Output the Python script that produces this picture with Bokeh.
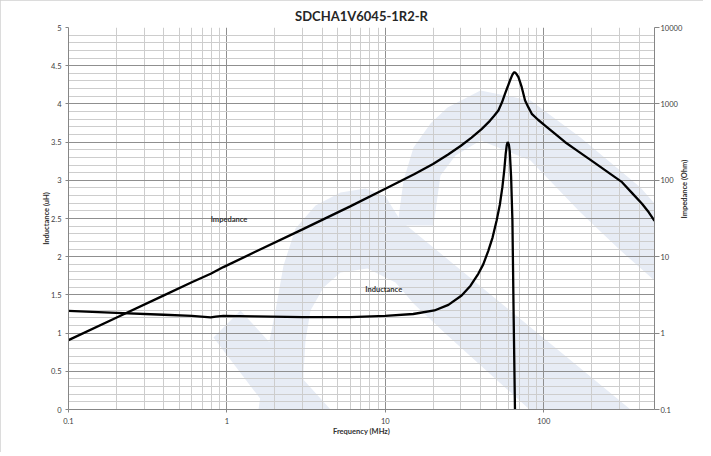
import math
from bokeh.plotting import figure
from bokeh.models import Range1d, LogAxis, FixedTicker, Label, LogScale, LinearScale
from bokeh.embed import file_html
from bokeh.resources import INLINE

# ---- data ----
freq_L = [0.1, 0.2, 0.4, 0.6, 0.79, 0.85, 0.95, 1.5, 3, 6, 10, 15, 20.4, 25, 30.3,
          34.5, 38.6, 41.5, 44.7, 47.5, 50.4, 52.8, 54.8, 56.3, 57.5, 58.4, 59.2, 60.2,
          61.0, 62.2, 63.4, 64.6, 65.8, 66.5]
ind_uH = [1.29, 1.265, 1.24, 1.225, 1.205, 1.215, 1.225, 1.22, 1.21, 1.21, 1.225, 1.25, 1.296, 1.37, 1.492,
          1.62, 1.776, 1.90, 2.08, 2.25, 2.474, 2.68, 2.91, 3.13, 3.347, 3.46, 3.50, 3.47,
          3.38, 3.05, 2.474, 1.17, 0.0, -0.6]

freq_Z = [0.1, 0.2, 0.4, 0.6, 0.79, 0.95, 1.5, 3, 6, 10, 15.3, 20, 24.9, 30, 35, 40.5, 45.7,
          48.5, 51.7, 54.5, 56.9, 59.0, 61.2, 63.2, 64.5, 65.3, 66.2, 67.3, 69.2, 72.6, 76.2,
          80, 84.0, 92, 101.9, 118, 136.5, 165, 206.5, 255, 312, 365, 417, 460, 500]
imp_ohm = [0.81, 1.59, 3.12, 4.62, 5.98, 7.31, 11.5, 22.8, 45.6, 77.3, 121, 163, 218, 283, 362, 468, 600,
           695, 820, 1050, 1355, 1650, 2024, 2380, 2540, 2600, 2560, 2450, 2235, 1654, 1110,
           900, 742, 620, 521, 405, 315, 239, 173, 127, 94.5, 66.4, 49.2, 38.1, 29.5]

x_major = [0.1, 1, 10, 100]
x_minor = [m * d for d in (0.1, 1, 10) for m in range(2, 10)] + [200, 300, 400, 500]
y_major = [0, 0.5, 1, 1.5, 2, 2.5, 3, 3.5, 4, 4.5, 5]
y_minor = [round(0.1 * i, 1) for i in range(51) if i % 5 != 0]
z_major = [0.1, 1, 10, 100, 1000, 10000]
z_labels = ["0.1", "1", "10", "100", "1000", "10000"]
x_labels = ["0.1", "1", "10", "100"]
y_labels = ["0", "0.5", "1", "1.5", "2", "2.5", "3", "3.5", "4", "4.5", "5"]

title_text = "SDCHA1V6045-1R2-R"
xlab = "Frequency (MHz)"
ylab_left = "Inductance (uH)"
ylab_right = "Impedance (Ohm)"

# background watermark outlines (page pixels, decorative only)
wm_a_x = [258, 265, 275, 283, 295, 315, 340, 365, 385, 400, 630, 529, 447, 413, 395, 367, 340, 323, 310, 305, 303, 303]
wm_a_y = [409, 360, 310, 265, 228, 205, 192, 188, 196, 220, 409, 409, 335, 303, 282, 268, 272, 287, 310, 340, 372, 409]
wm_b_x = [397, 403, 413, 430, 447, 480, 530, 580, 640, 654, 654, 620, 580, 530, 480, 455, 440, 433]
wm_b_y = [225, 180, 147, 123, 107, 90, 100, 137, 187, 203, 280, 250, 212, 160, 140, 155, 175, 225]
wm_c_x = [213, 240, 330, 268]
wm_c_y = [337, 310, 409, 409]
WM = "#e7ecf5"

FONT = "Lato"
AX = "#868686"
TXT = "#404040"
LAB = "#303030"

p = figure(width=703, height=452, x_axis_type="log",
           x_range=Range1d(0.1, 500), y_range=Range1d(0, 5),
           output_backend="svg", toolbar_location=None,
           min_border_left=68, min_border_right=49, min_border_top=27, min_border_bottom=43)
p.title.text = title_text
p.title.align = "center"
p.title.vertical_align = "middle"
p.title.text_font = FONT
p.title.text_font_size = "13px"
p.title.text_font_style = "bold"
p.title.text_color = "#262626"
p.title.standoff = 6
p.outline_line_color = None
p.background_fill_color = "white"
p.border_fill_color = "white"

p.extra_y_ranges = {"imp": Range1d(0.1, 10000), "wy": Range1d(409, 27)}
p.extra_y_scales = {"imp": LogScale(), "wy": LinearScale()}
p.extra_x_ranges = {"wx": Range1d(68, 654)}
p.extra_x_scales = {"wx": LinearScale()}

# watermark under the grid
for wx, wy in ((wm_a_x, wm_a_y), (wm_b_x, wm_b_y), (wm_c_x, wm_c_y)):
    r = p.patch(wx, wy, fill_color=WM, line_color=None, x_range_name="wx", y_range_name="wy")
    r.level = "image"

# x axis
xt = FixedTicker(ticks=x_major, minor_ticks=x_minor)
p.xaxis.ticker = xt
p.xgrid.ticker = xt
p.xaxis.major_label_overrides = {v: s for v, s in zip(x_major, x_labels)}
# y axis
yt = FixedTicker(ticks=y_major, minor_ticks=y_minor)
p.yaxis.ticker = yt
p.ygrid.ticker = yt
p.yaxis.major_label_overrides = {v: s for v, s in zip(y_major, y_labels)}

for g in (p.xgrid, p.ygrid):
    g.grid_line_color = "#8f8f8f"
    g.grid_line_width = 1
    g.minor_grid_line_color = "#cdcdcd"
    g.minor_grid_line_width = 1

raxis = LogAxis(y_range_name="imp", ticker=FixedTicker(ticks=z_major))
raxis.major_label_overrides = {v: s for v, s in zip(z_major, z_labels)}
p.add_layout(raxis, "right")

for ax in (p.xaxis[0], p.yaxis[0], raxis):
    ax.axis_line_color = AX
    ax.major_tick_line_color = AX
    ax.minor_tick_line_color = None
    ax.major_tick_in = 0
    ax.major_tick_out = 3
    ax.major_label_text_font = FONT
    ax.major_label_text_font_size = "7.5px"
    ax.major_label_text_color = TXT
    ax.major_label_standoff = 3
    ax.axis_label_text_font = FONT
    ax.axis_label_text_font_size = "7.5px"
    ax.axis_label_text_font_style = "bold"
    ax.axis_label_text_color = LAB
raxis.major_tick_out = 5
raxis.major_label_standoff = 1
p.xaxis.major_label_standoff = 4

p.xaxis.axis_label = xlab
p.xaxis.axis_label_standoff = 0
p.yaxis.axis_label = ylab_left
p.yaxis.axis_label_standoff = -3
raxis.axis_label = ylab_right
raxis.axis_label_standoff = -1
if "axis_label_orientation" in raxis.properties():
    raxis.axis_label_orientation = math.pi / 2

# curves
p.line(freq_L, ind_uH, line_color="black", line_width=2.3)
p.line(freq_Z, imp_ohm, line_color="black", line_width=2.3, y_range_name="imp")

# annotations
p.add_layout(Label(x=0.79, y=2.49, text="Impedance", text_font=FONT, text_font_size="7.5px",
                   text_font_style="bold", text_color=LAB, text_baseline="middle"))
p.add_layout(Label(x=7.47, y=1.57, text="Inductance", text_font=FONT, text_font_size="7.5px",
                   text_font_style="bold", text_color=LAB, text_baseline="middle"))

p.styles = {"outline": "1px solid #d0d0d0", "outline-offset": "-1px"}

open("out.html", "w").write(file_html(p, INLINE))
